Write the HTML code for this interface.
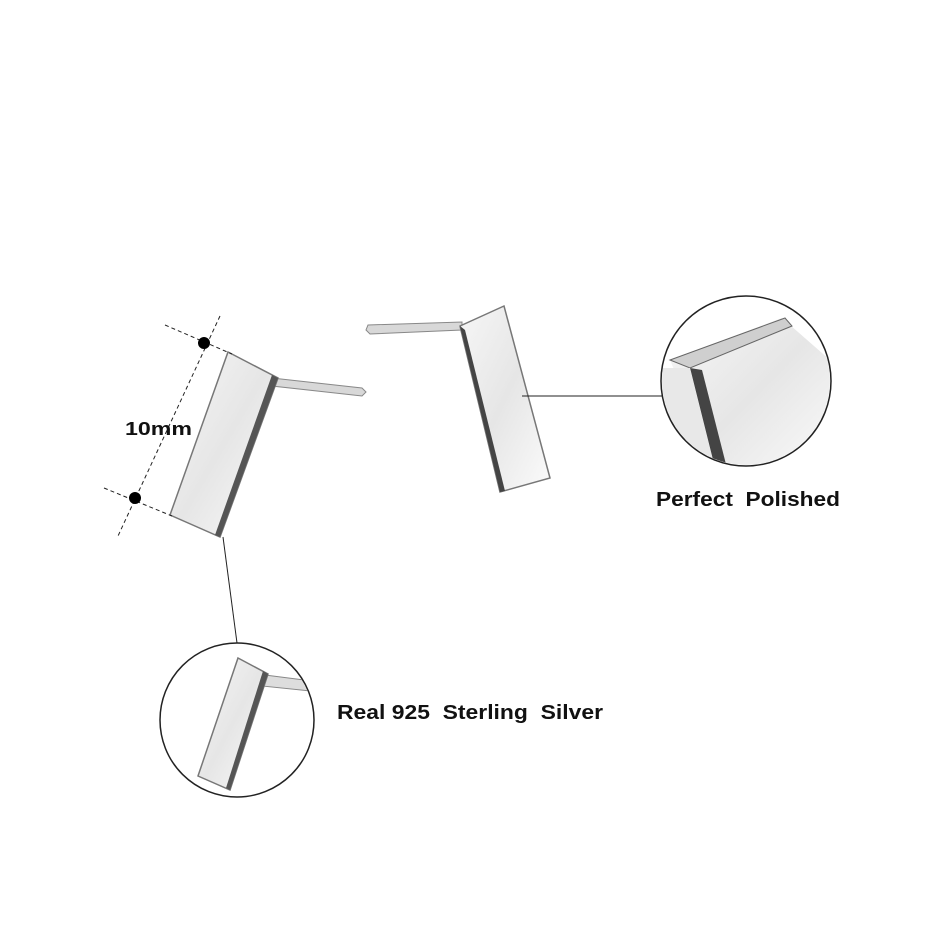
<!DOCTYPE html>
<html><head><meta charset="utf-8"><style>
html,body{margin:0;padding:0;background:#fff;}
svg{display:block;}
text{font-family:"Liberation Sans",sans-serif;font-weight:bold;fill:#111;}
</style></head><body>
<svg width="950" height="950" viewBox="0 0 950 950" xmlns="http://www.w3.org/2000/svg">
<defs>
<linearGradient id="g1" x1="0" y1="0" x2="1" y2="1">
<stop offset="0" stop-color="#f6f6f6"/><stop offset="0.5" stop-color="#e6e6e6"/><stop offset="1" stop-color="#fbfbfb"/>
</linearGradient>
</defs>
<rect width="950" height="950" fill="#fff"/>
<path d="M272 378 L362 388 L366 392 L362 396 L272 386 Z" fill="#d8d8d8" stroke="#888" stroke-width="1"/>
<polygon points="228,352 278,378 220,537 170,515" fill="url(#g1)" stroke="#777" stroke-width="1.5"/>
<polygon points="272,375 278,378 220,537 215,535" fill="#555"/>
<path d="M368 325 L462 322 L462 330 L370 334 L366 330 Z" fill="#d8d8d8" stroke="#888" stroke-width="1"/>
<polygon points="460,326 504,306 550,478 500,492" fill="url(#g1)" stroke="#777" stroke-width="1.5"/>
<polygon points="460,326 465,330 505,491 500,492" fill="#444"/>
<g stroke="#222" stroke-width="1" stroke-dasharray="4,3" fill="none">
<line x1="165" y1="325" x2="232" y2="354"/>
<line x1="220" y1="316" x2="118" y2="536"/>
<line x1="104" y1="488" x2="172" y2="516"/>
</g>
<circle cx="204" cy="343" r="6" fill="#000"/>
<circle cx="135" cy="498" r="6" fill="#000"/>
<text x="125" y="435" font-size="18" textLength="67" lengthAdjust="spacingAndGlyphs">10mm</text>
<line x1="522" y1="396" x2="662" y2="396" stroke="#222" stroke-width="1"/>
<line x1="223" y1="537" x2="237" y2="643" stroke="#222" stroke-width="1"/>
<circle cx="746" cy="381" r="85" fill="#fff" stroke="#222" stroke-width="1.5"/>
<clipPath id="c1"><circle cx="746" cy="381" r="84"/></clipPath>
<g clip-path="url(#c1)">
<polygon points="670,360 782,318 830,360 830,480 720,480" fill="url(#g1)"/>
<polygon points="670,360 785,318 792,326 690,368" fill="#cfcfcf" stroke="#666" stroke-width="1"/>
<polygon points="690,368 702,370 730,480 718,480" fill="#444"/>
<polygon points="660,368 690,368 718,480 660,480" fill="#e8e8e8"/>
</g>
<text x="656" y="506" font-size="20" textLength="184" lengthAdjust="spacingAndGlyphs">Perfect&#160; Polished</text>
<circle cx="237" cy="720" r="77" fill="#fff" stroke="#222" stroke-width="1.5"/>
<clipPath id="c2"><circle cx="237" cy="720" r="76"/></clipPath>
<g clip-path="url(#c2)">
<path d="M265 675 L320 682 L320 692 L262 686 Z" fill="#ddd" stroke="#888" stroke-width="1"/>
<polygon points="238,658 268,674 230,790 198,776" fill="url(#g1)" stroke="#777" stroke-width="1.5"/>
<polygon points="263,671 268,674 230,790 226,788" fill="#555"/>
</g>
<text x="337" y="719" font-size="20" textLength="266" lengthAdjust="spacingAndGlyphs">Real 925&#160; Sterling&#160; Silver</text>
</svg>
</body></html>
